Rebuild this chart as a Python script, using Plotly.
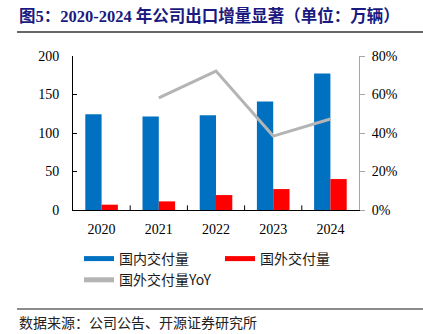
import plotly.graph_objects as go

years = ["2020", "2021", "2022", "2023", "2024"]
domestic = [124.4, 121.4, 123.0, 140.9, 177.2]
overseas = [6.9, 11.2, 19.4, 27.2, 40.2]
yoy_years = ["2021", "2022", "2023", "2024"]
overseas_yoy = [0.582, 0.722, 0.384, 0.473]

BLUE = "#0070C0"
RED = "#FF0000"
GRAY = "#B4B4B4"
serif = "Liberation Serif, Noto Sans CJK SC"

L, R, T, B = 73, 64, 56, 124
W, H = 423, 334
PW, PH = W - L - R, H - T - B


def px(x):
    return (x - L) / PW


def py(y):
    return (H - B - y) / PH


fig = go.Figure()
fig.add_trace(go.Bar(x=years, y=domestic, name="国内交付量", marker=dict(color=BLUE, line=dict(width=0)),
                     showlegend=False))
fig.add_trace(go.Bar(x=years, y=overseas, name="国外交付量", marker=dict(color=RED, line=dict(width=0)),
                     showlegend=False))
fig.add_trace(go.Scatter(x=yoy_years, y=overseas_yoy, name="国外交付量YoY", yaxis="y2",
                         mode="lines", line=dict(color=GRAY, width=3), showlegend=False))
# legend entries
fig.add_trace(go.Scatter(x=[None], y=[None], name="国内交付量", mode="lines",
                         line=dict(color=BLUE, width=6)))
fig.add_trace(go.Scatter(x=[None], y=[None], name="国外交付量", mode="lines",
                         line=dict(color=RED, width=6)))
fig.add_trace(go.Scatter(x=[None], y=[None], name="国外交付量YoY", mode="lines",
                         line=dict(color=GRAY, width=3)))

fig.update_layout(
    width=W, height=H,
    margin=dict(l=L, r=R, t=T, b=B),
    paper_bgcolor="white", plot_bgcolor="white",
    barmode="group", bargap=0.43, bargroupgap=0,
    font=dict(family=serif, size=14, color="#000000"),
    xaxis=dict(type="category", showline=True, linecolor="#000000", linewidth=1,
               ticks="", showgrid=False, tickfont=dict(size=14, family=serif),
               ticklabelstandoff=6, range=[-0.5, 4.5]),
    yaxis=dict(range=[0, 200], dtick=50, showline=True, linecolor="#000000", linewidth=1,
               ticks="inside", ticklen=4, tickcolor="#000000", showgrid=False, zeroline=False,
               ticklabelstandoff=10, tickfont=dict(size=14, family=serif)),
    yaxis2=dict(range=[0, 0.8], dtick=0.2, tickformat=".0%", overlaying="y", side="right",
                showline=True, linecolor="#A6A6A6", linewidth=1, ticks="outside", ticklen=5,
                tickcolor="#A6A6A6", showgrid=False, zeroline=False,
                ticklabelstandoff=4, tickfont=dict(size=14, family=serif)),
    legend=dict(orientation="h", x=px(79), xanchor="left", y=py(243), yanchor="top",
                entrywidth=96, entrywidthmode="pixels", traceorder="normal",
                bgcolor="rgba(0,0,0,0)",
                font=dict(size=14, family="Noto Sans CJK SC", color="#1A1A1A"),
                tracegroupgap=0, itemsizing="constant"),
)

# category boundary ticks
for i in range(1, 5):
    fig.add_shape(type="line", xref="x", yref="paper", x0=i - 0.5, x1=i - 0.5, y0=0, y1=0.03,
                  line=dict(color="#000000", width=1))

fig.add_annotation(text="<b>图5：2020-2024 年公司出口增量显著（单位：万辆）</b>", xref="paper", yref="paper",
                   x=px(17), xanchor="left", y=py(16), yanchor="middle", showarrow=False,
                   font=dict(size=16.5, family="Liberation Serif, Noto Sans CJK SC", color="#1A1A80"))
fig.add_shape(type="line", xref="paper", yref="paper", x0=px(17), x1=px(423), y0=py(32), y1=py(32),
              line=dict(color="#333333", width=1.5))
fig.add_shape(type="line", xref="paper", yref="paper", x0=px(17), x1=px(423), y0=py(309), y1=py(309),
              line=dict(color="#666666", width=1.5))
fig.add_annotation(text="数据来源：公司公告、开源证券研究所", xref="paper", yref="paper",
                   x=px(17), xanchor="left", y=py(322), yanchor="middle", showarrow=False,
                   font=dict(size=14, family="Noto Sans CJK SC", color="#222222"))

fig.write_html("out.html")
